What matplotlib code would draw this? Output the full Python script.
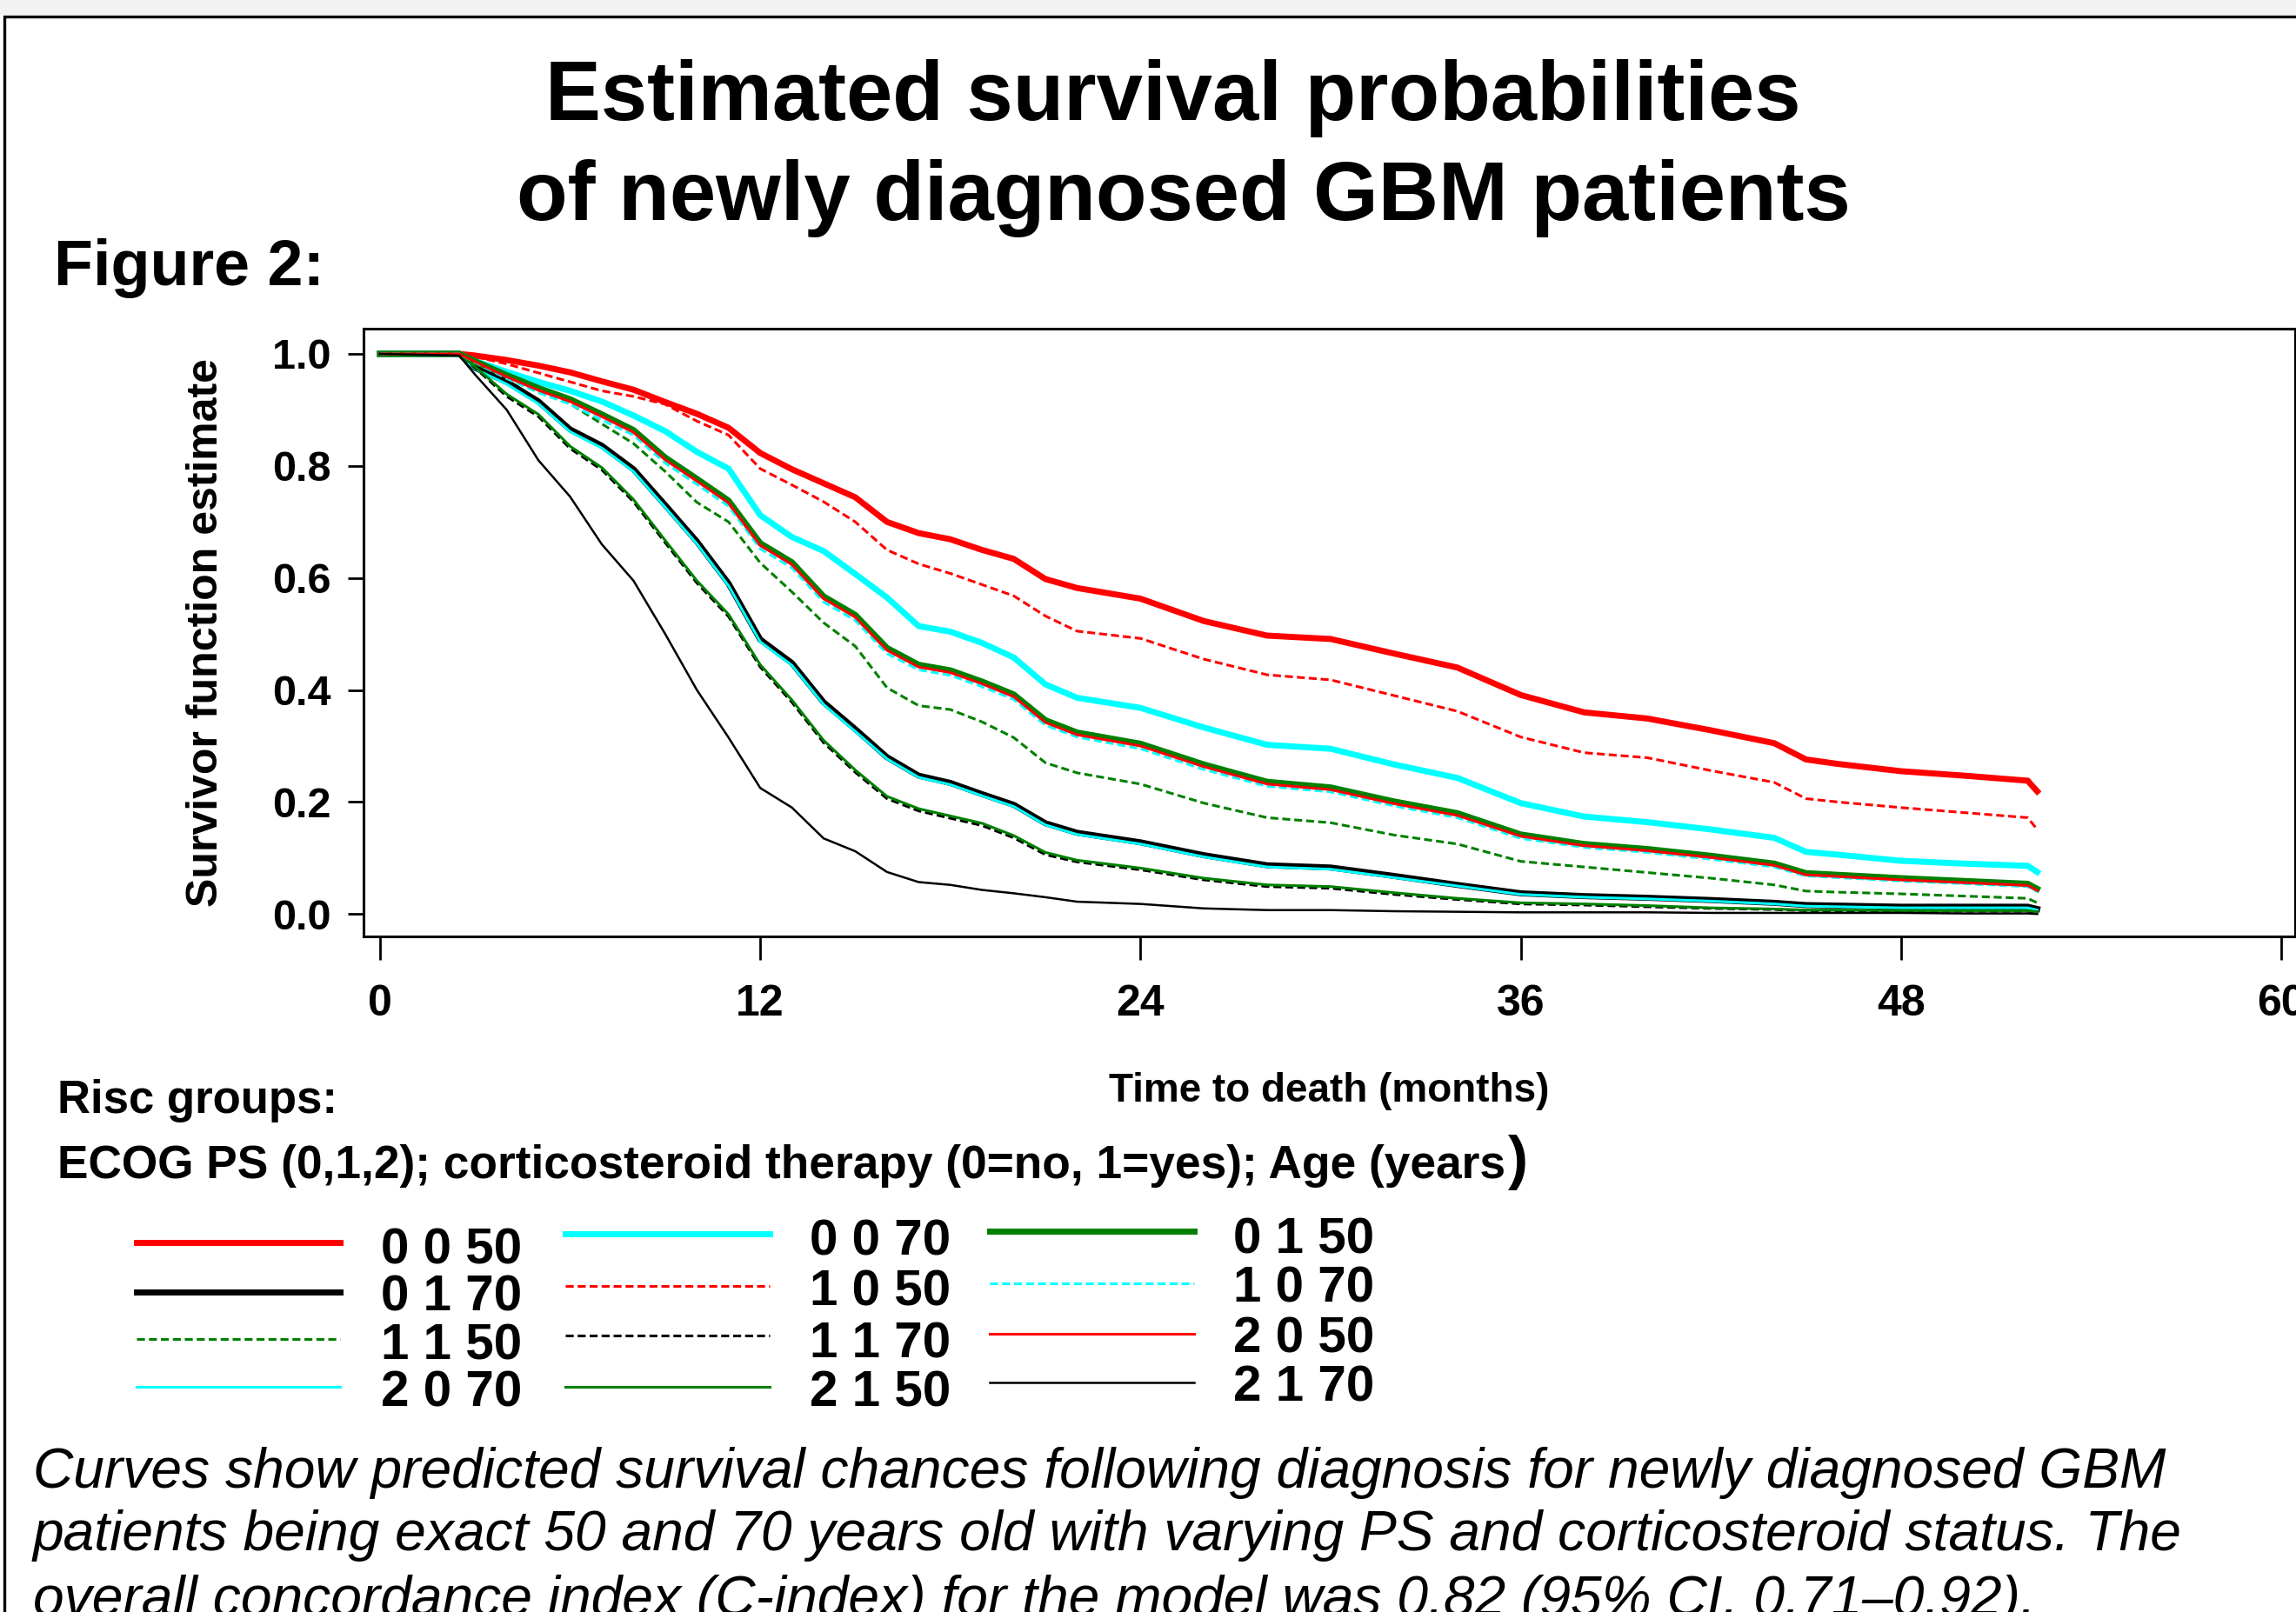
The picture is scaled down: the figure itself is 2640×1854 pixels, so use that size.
import matplotlib
matplotlib.use("Agg")
import matplotlib.pyplot as plt
from matplotlib.lines import Line2D
from matplotlib.patches import Rectangle

plt.rcParams['font.family'] = ['Liberation Sans', 'DejaVu Sans']

W, H, DPI = 2640, 1854, 100

# time grid (months) shared by all predicted curves
months = [0, 2.5, 3, 4, 5, 6, 7, 8, 9, 10, 11, 12, 13, 14, 15, 16, 17, 18, 19, 20,
          21, 22, 24, 26, 28, 30, 32, 34, 36, 38, 40, 42, 44, 45, 46, 48, 50, 52, 52.3]

# survival estimates per risk group: ECOG PS, corticosteroids, age
s_0_0_50 = [1.0, 1.0, 0.997, 0.989, 0.979, 0.967, 0.951, 0.936, 0.914, 0.893, 0.868, 0.823, 0.794,
            0.769, 0.744, 0.700, 0.680, 0.669, 0.650, 0.634, 0.598, 0.582, 0.563, 0.523, 0.497,
            0.491, 0.465, 0.440, 0.391, 0.360, 0.349, 0.328, 0.305, 0.276, 0.268, 0.255, 0.247,
            0.238, 0.219]
s_1_0_50 = [1.0, 1.0, 0.995, 0.982, 0.966, 0.950, 0.934, 0.924, 0.910, 0.880, 0.855, 0.795, 0.766,
            0.736, 0.700, 0.650, 0.625, 0.608, 0.588, 0.568, 0.532, 0.505, 0.492, 0.455, 0.427,
            0.418, 0.390, 0.362, 0.316, 0.288, 0.279, 0.256, 0.235, 0.206, 0.200, 0.190, 0.181,
            0.172, 0.151]
s_0_0_70 = [1.0, 1.0, 0.987, 0.968, 0.950, 0.934, 0.915, 0.890, 0.862, 0.825, 0.795, 0.712, 0.673,
            0.648, 0.607, 0.565, 0.514, 0.504, 0.484, 0.458, 0.410, 0.386, 0.368, 0.333, 0.302,
            0.295, 0.267, 0.243, 0.198, 0.174, 0.164, 0.151, 0.136, 0.111, 0.106, 0.095, 0.090,
            0.086, 0.075]
s_0_1_50 = [1.0, 1.0, 0.987, 0.962, 0.939, 0.919, 0.892, 0.864, 0.815, 0.777, 0.738, 0.662, 0.628,
            0.567, 0.534, 0.475, 0.445, 0.435, 0.415, 0.392, 0.346, 0.324, 0.304, 0.267, 0.236,
            0.226, 0.201, 0.180, 0.142, 0.125, 0.116, 0.104, 0.090, 0.073, 0.070, 0.064, 0.059,
            0.054, 0.045]
s_2_0_50 = [1.0, 1.0, 0.986, 0.959, 0.935, 0.915, 0.888, 0.860, 0.811, 0.773, 0.734, 0.658, 0.624,
            0.563, 0.530, 0.471, 0.441, 0.431, 0.411, 0.388, 0.342, 0.320, 0.300, 0.263, 0.232,
            0.222, 0.197, 0.176, 0.139, 0.122, 0.113, 0.101, 0.087, 0.070, 0.067, 0.061, 0.056,
            0.051, 0.042]
s_1_0_70 = [1.0, 1.0, 0.985, 0.956, 0.931, 0.910, 0.882, 0.855, 0.805, 0.767, 0.728, 0.652, 0.618,
            0.557, 0.524, 0.465, 0.436, 0.426, 0.406, 0.383, 0.337, 0.316, 0.295, 0.258, 0.228,
            0.218, 0.193, 0.172, 0.135, 0.119, 0.110, 0.098, 0.084, 0.068, 0.065, 0.059, 0.054,
            0.049, 0.040]
s_1_1_50 = [1.0, 1.0, 0.983, 0.958, 0.933, 0.911, 0.875, 0.840, 0.790, 0.735, 0.700, 0.627, 0.575,
            0.520, 0.478, 0.404, 0.372, 0.365, 0.343, 0.315, 0.270, 0.252, 0.232, 0.198, 0.172,
            0.163, 0.141, 0.125, 0.094, 0.084, 0.074, 0.064, 0.052, 0.041, 0.039, 0.036, 0.032,
            0.028, 0.020]
s_0_1_70 = [1.0, 1.0, 0.975, 0.950, 0.915, 0.865, 0.836, 0.794, 0.730, 0.665, 0.590, 0.490, 0.448,
            0.378, 0.330, 0.280, 0.247, 0.234, 0.214, 0.195, 0.162, 0.145, 0.128, 0.105, 0.087,
            0.083, 0.068, 0.052, 0.037, 0.032, 0.029, 0.025, 0.020, 0.016, 0.015, 0.013, 0.013,
            0.013, 0.009]
s_2_0_70 = [1.0, 1.0, 0.973, 0.946, 0.911, 0.861, 0.832, 0.790, 0.726, 0.661, 0.586, 0.486, 0.444,
            0.374, 0.326, 0.277, 0.244, 0.231, 0.211, 0.192, 0.159, 0.142, 0.125, 0.102, 0.084,
            0.080, 0.065, 0.050, 0.035, 0.030, 0.027, 0.023, 0.018, 0.014, 0.013, 0.011, 0.011,
            0.011, 0.007]
s_2_1_50 = [1.0, 1.0, 0.977, 0.928, 0.892, 0.835, 0.797, 0.740, 0.667, 0.595, 0.535, 0.445, 0.382,
            0.310, 0.257, 0.210, 0.188, 0.175, 0.162, 0.140, 0.110, 0.096, 0.082, 0.064, 0.052,
            0.049, 0.038, 0.028, 0.020, 0.018, 0.015, 0.011, 0.009, 0.007, 0.007, 0.006, 0.006,
            0.006, 0.004]
s_1_1_70 = [1.0, 1.0, 0.975, 0.924, 0.888, 0.831, 0.793, 0.736, 0.663, 0.591, 0.531, 0.441, 0.378,
            0.306, 0.253, 0.206, 0.184, 0.171, 0.158, 0.136, 0.106, 0.093, 0.079, 0.061, 0.049,
            0.046, 0.035, 0.026, 0.018, 0.016, 0.013, 0.010, 0.008, 0.006, 0.006, 0.005, 0.005,
            0.005, 0.003]
s_2_1_70 = [1.0, 0.997, 0.963, 0.900, 0.810, 0.745, 0.660, 0.595, 0.500, 0.400, 0.315, 0.225, 0.190,
            0.135, 0.112, 0.075, 0.057, 0.052, 0.043, 0.037, 0.030, 0.022, 0.018, 0.010, 0.007,
            0.007, 0.005, 0.004, 0.003, 0.003, 0.003, 0.002, 0.002, 0.002, 0.002, 0.002, 0.001,
            0.001, 0.0]

# line styles: PS 0 thick solid, PS 1 dashed, PS 2 thin solid
thick = dict(lw=5.0, ls='-')
dashed = dict(lw=2.2, ls=(0, (3, 1.5)))
thin = dict(lw=2.2, ls='-')

# legend order (column by column)
series = [
    ("0 0 50", s_0_0_50, "#ff0000", thick),
    ("0 1 70", s_0_1_70, "black", thick),
    ("1 1 50", s_1_1_50, "#008000", dashed),
    ("2 0 70", s_2_0_70, "#00ffff", thin),
    ("0 0 70", s_0_0_70, "#00ffff", thick),
    ("1 0 50", s_1_0_50, "#ff0000", dashed),
    ("1 1 70", s_1_1_70, "black", dashed),
    ("2 1 50", s_2_1_50, "#008000", thin),
    ("0 1 50", s_0_1_50, "#008000", thick),
    ("1 0 70", s_1_0_70, "#00ffff", dashed),
    ("2 0 50", s_2_0_50, "#ff0000", thin),
    ("2 1 70", s_2_1_70, "black", dict(lw=1.8, ls='-')),
]


def fx(px):
    return px / W


def fy(py):
    return 1 - py / H


fig = plt.figure(figsize=(W / DPI, H / DPI), dpi=DPI)
fig.patch.set_facecolor("white")

# slide background strip and frame
fig.add_artist(Rectangle((0, fy(17)), 1, 17 / H, transform=fig.transFigure,
                         facecolor="#f2f2f2", edgecolor="none", zorder=0))
fig.add_artist(Rectangle((fx(5), -0.1), 1.2, fy(19) + 0.1, transform=fig.transFigure,
                         fill=False, edgecolor="black", lw=2.4, zorder=1))

ax = fig.add_axes([fx(418), fy(1077), fx(2639) - fx(418), fy(378) - fy(1077)])

for label, vals, color, st in series:
    ax.plot(months, vals, color=color, lw=st['lw'], ls=st['ls'], solid_joinstyle='miter')

ax.set_xlim(-0.52, 60.44)
ax.set_ylim(-0.040, 1.045)
ax.set_xticks([0, 12, 24, 36, 48, 60])
ax.set_xticklabels(["0", "12", "24", "36", "48", "60"], fontweight="bold")
ax.set_yticks([0, 0.2, 0.4, 0.6, 0.8, 1.0])
ax.set_yticklabels(["0.0", "0.2", "0.4", "0.6", "0.8", "1.0"], fontweight="bold")
ax.tick_params(axis="y", length=13, width=2, pad=14, labelsize=35)
ax.tick_params(axis="x", length=19.5, width=2, pad=20, labelsize=36)
for sp in ax.spines.values():
    sp.set_linewidth(2.2)

ax.set_xlabel("Time to death (months)", fontsize=33, fontweight="bold")
ax.xaxis.set_label_coords(0.5, -0.223)
ax.set_ylabel("Survivor function estimate", fontsize=36, fontweight="bold")
ax.yaxis.set_label_coords(-0.0711, 0.5)

# titles
fig.text(fx(1349), fy(138), "Estimated survival probabilities", fontsize=69,
         fontweight="bold", ha="center", va="baseline")
fig.text(fx(1361), fy(253), "of newly diagnosed GBM patients", fontsize=69,
         fontweight="bold", ha="center", va="baseline")
fig.text(fx(62), fy(328), "Figure 2:", fontsize=53, fontweight="bold", va="baseline")

# legend heading
fig.text(fx(66), fy(1280), "Risc groups:", fontsize=38, fontweight="bold", va="baseline")
ecog = fig.text(fx(66), fy(1355), "ECOG PS (0,1,2); corticosteroid therapy (0=no, 1=yes); Age (years",
                fontsize=38.3, fontweight="bold", va="baseline")
fig.canvas.draw()
bb = ecog.get_window_extent()
fig.text(bb.x1 / W + 0.001, fy(1355), ")", fontsize=50, fontweight="bold", va="baseline")

# legend drawn by hand in three columns
col_line_x = [(157, 391), (650, 885), (1138, 1373)]
col_text_x = [438, 931, 1418]
line_y = [[1429, 1486, 1540, 1595], [1419, 1479, 1536, 1595], [1416, 1476, 1534, 1590]]
text_base = [[1453, 1507, 1563, 1617], [1444, 1501, 1561, 1618], [1441, 1497, 1556, 1612]]
for i, (label, vals, color, st) in enumerate(series):
    c, r = divmod(i, 4)
    x0, x1 = col_line_x[c]
    y = fy(line_y[c][r])
    fig.add_artist(Line2D([fx(x0), fx(x1)], [y, y], transform=fig.transFigure,
                          color=color, lw=st['lw'], ls=st['ls']))
    fig.text(fx(col_text_x[c]), fy(text_base[c][r]), label, fontsize=42,
             fontweight="bold", va="baseline")

# caption
caption = [
    "Curves show predicted survival chances following diagnosis for newly diagnosed GBM",
    "patients being exact 50 and 70 years old with varying PS and corticosteroid status. The",
    "overall concordance index (C-index) for the model was 0.82 (95% CI, 0.71\u20130.92).",
]
for line, base in zip(caption, [1711, 1783, 1858]):
    fig.text(fx(38), fy(base), line, fontsize=46.2, style="italic", va="baseline")

fig.savefig("out.png", dpi=DPI)
